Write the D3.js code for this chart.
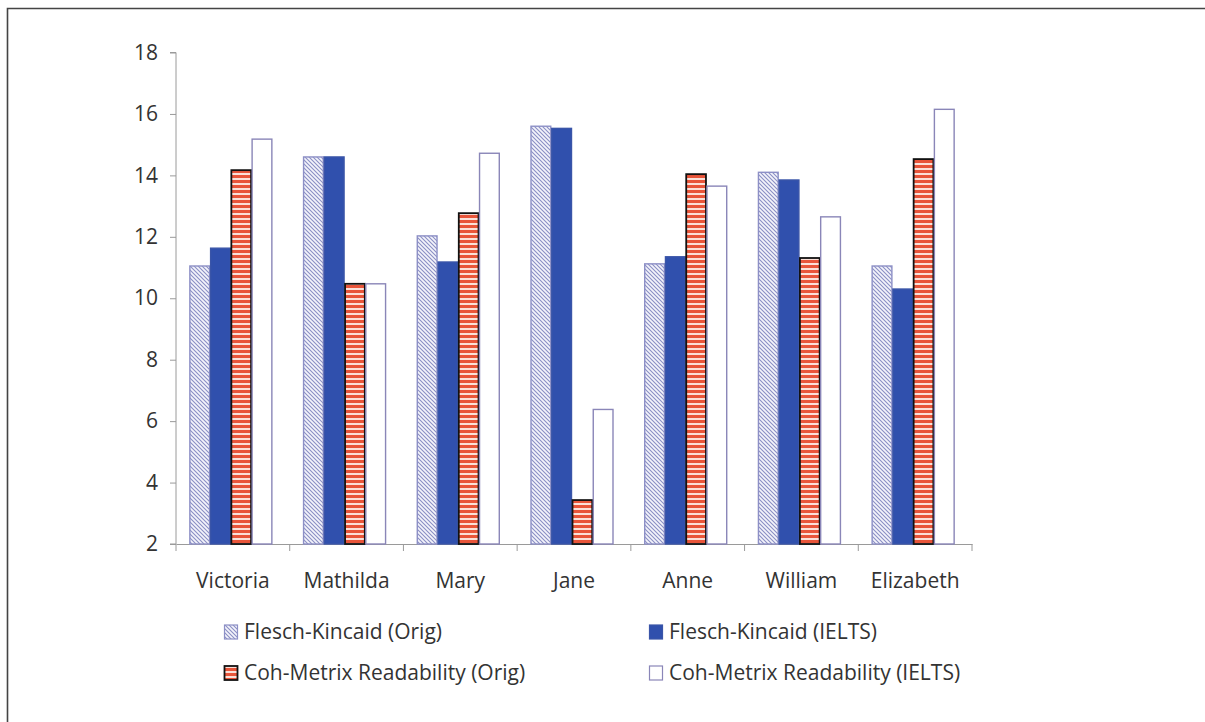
<!DOCTYPE html>
<html><head><meta charset="utf-8">
<script src="https://cdnjs.cloudflare.com/ajax/libs/d3/7.8.5/d3.min.js"></script>
<style>body{margin:0;background:#fff}svg{display:block}svg text{font-family:"Open Sans",sans-serif}</style>
</head><body><svg id="c" width="1205" height="722"></svg>
<script>
const categories = ["Victoria","Mathilda","Mary","Jane","Anne","William","Elizabeth"];
const seriesNames = ["Flesch-Kincaid (Orig)","Flesch-Kincaid (IELTS)","Coh-Metrix Readability (Orig)","Coh-Metrix Readability (IELTS)"];
const fkOrig  = [11.05, 14.6, 12.03, 15.6, 11.12, 14.1, 11.05];
const fkIelts = [11.63, 14.6, 11.18, 15.53, 11.35, 13.85, 10.3];
const cohOrig = [14.17, 10.47, 12.77, 3.43, 14.04, 11.31, 14.53];
const cohIelts= [15.18, 10.47, 14.72, 6.38, 13.65, 12.65, 16.15];
const yTicks = [2,4,6,8,10,12,14,16,18];

const svg = d3.select("#c");
const defs = svg.append("defs");
const hatch = defs.append("pattern").attr("id","hatch").attr("patternUnits","userSpaceOnUse").attr("width",4).attr("height",4);
hatch.append("rect").attr("width",4).attr("height",4).attr("fill","#f4f4fb");
hatch.append("path").attr("d","M-1,-1 L5,5 M-1,3 L1,5 M3,-1 L5,1").attr("stroke","#8a8fc4").attr("stroke-width",1.1);
const stripe = defs.append("pattern").attr("id","stripe").attr("patternUnits","userSpaceOnUse").attr("width",6).attr("height",5);
stripe.append("rect").attr("width",6).attr("height",5).attr("fill","#fbe0d8");
stripe.append("rect").attr("width",6).attr("height",3).attr("fill","#e8553a");

const fills = ["url(#hatch)","#3050ad","url(#stripe)","#ffffff"];
const strokes = ["#8d90c6","#3a55a8","#111111","#8a86b8"];

const x0 = d3.scaleBand().domain(categories).range([176,972]);
const x1 = d3.scaleBand().domain(seriesNames).range([-2, x0.bandwidth()-2]).paddingOuter(0.74).paddingInner(0);
const y = d3.scaleLinear().domain([2,18]).range([544,52.5]);

// frame
svg.append("path").attr("d","M7.5,722 L7.5,8.5 L1205,8.5").attr("fill","none").attr("stroke","#444").attr("stroke-width",1.6);

// axes
const yAxis = svg.append("g").attr("transform","translate(176,0)").call(d3.axisLeft(y).tickValues(yTicks).tickSize(6).tickPadding(12).tickFormat(d3.format("d")));
const xAxis = svg.append("g").attr("transform","translate(0,544)").call(d3.axisBottom(x0).tickSize(0).tickPadding(29));
[yAxis,xAxis].forEach(a=>{a.attr("font-family",null);a.selectAll("path,line").attr("stroke","#9a9a9a");a.selectAll("text").attr("fill","#333").style("font-size","21px");});
yAxis.select(".domain").attr("d","M-6,52.5H0V544H-6");
// category boundary ticks
svg.append("g").selectAll("line").data(categories.map((c,i)=>i).concat([categories.length])).join("line")
  .attr("x1",i=>176+i*x0.step()).attr("x2",i=>176+i*x0.step()).attr("y1",544).attr("y2",551).attr("stroke","#9a9a9a");

const allSeries = [fkOrig,fkIelts,cohOrig,cohIelts];
const data = [];
categories.forEach((c,i)=>allSeries.forEach((s,j)=>data.push({c,j,v:s[i]})));
svg.append("g").selectAll("rect").data(data).join("rect")
  .attr("x",d=>x0(d.c)+x1(seriesNames[d.j])+0.5)
  .attr("width",x1.bandwidth()-1)
  .attr("y",d=>y(d.v))
  .attr("height",d=>y(2)-y(d.v))
  .attr("fill",d=>fills[d.j]).attr("stroke",d=>strokes[d.j]).attr("stroke-width",d=>d.j===2?1.8:1.4);

// legend
const legPos = [[224,632],[649,632],[224,673],[649,673]];
const leg = svg.append("g").selectAll("g").data(seriesNames).join("g").attr("transform",(d,i)=>`translate(${legPos[i][0]},${legPos[i][1]})`);
leg.append("rect").attr("x",0.5).attr("y",-7).attr("width",13).attr("height",14)
  .attr("fill",(d,i)=>fills[i]).attr("stroke",(d,i)=>strokes[i]).attr("stroke-width",(d,i)=>i===2?1.8:1.2);
leg.append("text").attr("x",20).attr("y",0).attr("dy","0.35em").attr("fill","#333").style("font-size","21px").text(d=>d);
</script></body></html>
